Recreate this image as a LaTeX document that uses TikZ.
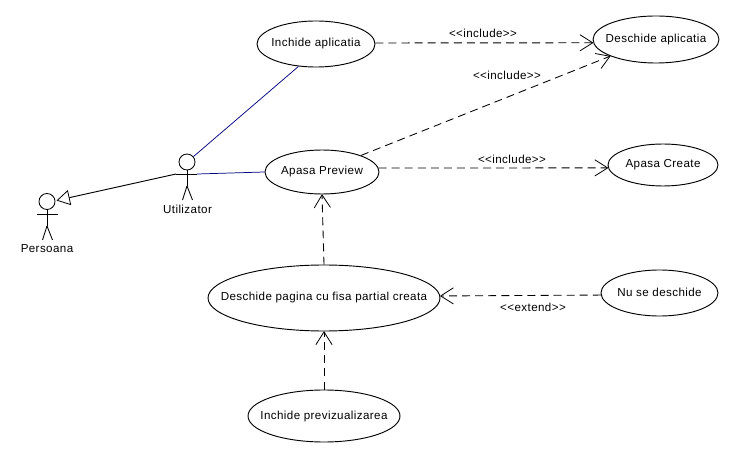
\documentclass[tikz,border=0pt]{standalone}
\usepackage{fontspec}
\setmainfont[LetterSpace=3.5]{Liberation Sans}
\usetikzlibrary{shapes.geometric,arrows.meta}
\newcommand{\uctext}[1]{\raisebox{1.5pt}{\makebox[0pt][c]{#1}}}
\tikzset{
  x=0.75pt,y=-0.75pt,
  usecase/.style={ellipse,draw=black,line width=0.7pt,fill=white,inner sep=0pt,font=\fontsize{8.7pt}{10pt}\selectfont},
  depend/.style={draw=black,line width=0.65pt,dash pattern=on 6pt off 3.8pt,-{Straight Barb[length=9.5pt,width=12pt,line width=0.6pt,round=false]}},
  assoc/.style={draw=blue!50!black,line width=0.55pt},
  inherit/.style={draw=black,line width=0.7pt,-{Triangle[open,length=10pt,width=11.5pt,line width=0.6pt]}},
  stick/.style={draw=black,line width=0.65pt},
  head/.style={circle,draw=black,line width=0.65pt,minimum size=12pt,inner sep=0pt},
  lbl/.style={font=\fontsize{8.7pt}{10pt}\selectfont,inner sep=0pt},
  stereo/.style={font=\fontsize{8.7pt}{10pt}\selectfont,inner sep=0pt}
}
\begin{document}
\begin{tikzpicture}
\useasboundingbox (0,0) rectangle (742,466);
\node[usecase,minimum width=88.5pt,minimum height=34.5pt] (ia) at (316,44) {\uctext{Inchide aplicatia}};
\node[usecase,minimum width=94.5pt,minimum height=35.25pt] (da) at (656,39.5) {\uctext{Deschide aplicatia}};
\node[usecase,minimum width=85.5pt,minimum height=33pt] (ap) at (322,172) {\uctext{Apasa Preview}};
\node[usecase,minimum width=82.5pt,minimum height=31.5pt] (ac) at (663,165) {\uctext{Apasa Create}};
\node[usecase,minimum width=174pt,minimum height=49.5pt] (dp) at (324,298) {\uctext{Deschide pagina cu fisa partial creata}};
\node[usecase,minimum width=87.75pt,minimum height=34.5pt] (nd) at (659.5,293) {\uctext{Nu se deschide}};
\node[usecase,minimum width=114pt,minimum height=39pt] (ip) at (324,416) {\uctext{Inchide previzualizarea}};
% actors
\node[head] (hp) at (47,201.5) {};
\node[head] (hu) at (187,162) {};
\coordinate (pc) at (47,226);
\coordinate (uc) at (187,186);
\draw[stick] (hp.south) -- (pc);
\draw[stick] (37,214) -- (58,214);
\draw[stick] (pc) -- (42.5,240);
\draw[stick] (pc) -- (52.5,240);
\draw[stick] (hu.south) -- (uc);
\draw[stick] (176,174) coordinate (ul) -- (197,174) coordinate (ur);
\draw[stick] (uc) -- (182.5,200);
\draw[stick] (uc) -- (192.5,200);
\node[lbl] (lp) at (47,249) {Persoana};
\node[lbl] (lu) at (187.5,209) {Utilizator};
% connectors
\coordinate (tip) at (56.5,200.5);
\draw[inherit] (ul) -- (tip);
\draw[assoc] (hu.40) -- (ia.232);
\draw[assoc] (ur) -- (ap.west);
\draw[depend] (ia.1) -- (da.183);
\draw[depend] (ap.23) -- (da.200);
\draw[depend] (ap.4) -- (ac.183);
\draw[depend] (dp.north) -- (ap.south);
\draw[depend] (ip.north) -- (dp.south);
\draw[depend] (nd.182) -- (dp.1.5);
\node[stereo] (s1) at (483,33) {<{}<include>{}>};
\node[stereo] (s2) at (507,75) {<{}<include>{}>};
\node[stereo] (s3) at (512,159) {<{}<include>{}>};
\node[stereo] (s4) at (533,307) {<{}<extend>{}>};
\end{tikzpicture}
\end{document}
